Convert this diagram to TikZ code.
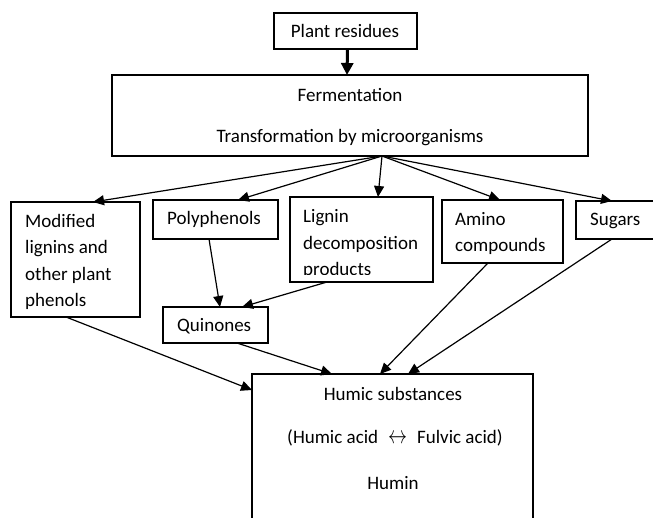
\documentclass[tikz,border=0pt]{standalone}
\usepackage{fontspec}
\setmainfont{Carlito}
\usetikzlibrary{arrows.meta}
\begin{document}
\begin{tikzpicture}[x=1pt,y=-1pt,
  box/.style={draw,line width=1.8pt,inner sep=0pt,outer sep=0pt,anchor=north west},
  thinbox/.style={box,line width=1.4pt},
  txt/.style={inner sep=0pt,font=\fontsize{19}{26.6}\selectfont,align=left},
  arr/.style={line width=1.2pt,-{Triangle[length=11pt,width=10pt]}},
  bigarr/.style={line width=3pt,-{Triangle[length=12pt,width=12pt]}}]
\useasboundingbox (0,0) rectangle (653,517);
% boxes
\node[box,minimum width=143pt,minimum height=36pt] (plant) at (274,13) {};
\node[thinbox,minimum width=476pt,minimum height=81pt] (ferm) at (112,75) {};
\node[box,line width=2.2pt,minimum width=129pt,minimum height=115pt] (mod) at (11,202) {};
\node[box,minimum width=125pt,minimum height=39pt] (poly) at (153,200) {};
\node[box,minimum width=143pt,minimum height=85pt] (lig) at (290,197) {};
\node[box,minimum width=121pt,minimum height=63pt] (amino) at (442,200) {};
\node[box,minimum width=90pt,minimum height=38pt] (sug) at (576,201) {};
\node[box,minimum width=105pt,minimum height=36pt] (quin) at (163,307) {};
\node[thinbox,minimum width=281pt,minimum height=160pt] (humic) at (252,374) {};
% texts
\node[txt] (plantT) at (345,31) {Plant residues};
\node[txt] (fermT1) at (350,95) {Fermentation};
\node[txt] (fermT2) at (350,138) {Transformation by microorganisms};
\node[txt,anchor=west] (modT) at (25,262) {Modified\\lignins and\\other plant\\phenols};
\node[txt,anchor=west] (polyT) at (167,219) {Polyphenols};
\begin{scope}
\clip (290,197) rectangle (433,274.5);
\node[txt,anchor=west] (ligT) at (303,244) {Lignin\\decomposition\\products};
\end{scope}
\node[txt,anchor=west] (aminoT) at (455,233.5) {Amino\\compounds};
\node[txt,anchor=west] (sugT) at (590,221) {Sugars};
\node[txt,anchor=west] (quinT) at (177,326) {Quinones};
\node[txt] (humT1) at (393,394) {Humic substances};
\node[txt] (humT2) at (395,438) {(Humic acid\hspace{10pt}\raisebox{0.5pt}{\scalebox{1.1}[1.45]{$\leftrightarrow$}}\hspace{10pt}Fulvic acid)};
\node[txt] (humT3) at (393,483) {Humin};
% connectors
\draw[bigarr] ([xshift=2pt]plant.south) -- ([xshift=-3pt]ferm.north);
\coordinate (fan) at ([xshift=32pt]ferm.south);
\draw[arr] (fan) -- ([xshift=82pt]mod.north west);
\draw[arr] (fan) -- ([xshift=85pt]poly.north west);
\draw[arr] (fan) -- ([xshift=88pt]lig.north west);
\draw[arr] (fan) -- ([xshift=58pt]amino.north west);
\draw[arr] (fan) -- ([xshift=36pt]sug.north west);
\draw[arr] ([xshift=56pt]poly.south west) -- ([xshift=57pt]quin.north west);
\draw[arr] ([xshift=37pt]lig.south west) -- ([xshift=79pt]quin.north west);
\draw[arr] ([xshift=55pt]mod.south west) -- ([yshift=-16pt]humic.north west);
\draw[arr] ([xshift=74pt]quin.south west) -- ([xshift=80pt]humic.north west);
\draw[arr] ([xshift=46pt]amino.south west) -- ([xshift=128pt]humic.north west);
\draw[arr] ([xshift=36pt]sug.south west) -- ([xshift=156pt]humic.north west);
\end{tikzpicture}
\end{document}
